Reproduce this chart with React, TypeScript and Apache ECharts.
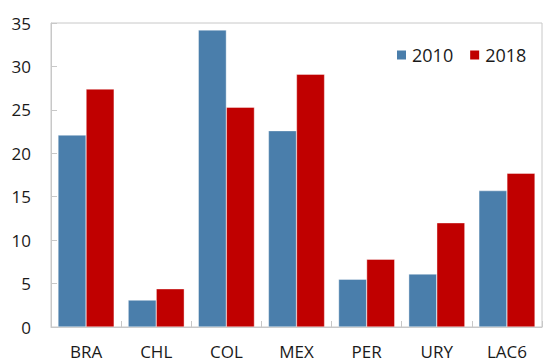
import React, { useEffect, useRef } from "react";
import * as echarts from "echarts";

const categories = ["BRA", "CHL", "COL", "MEX", "PER", "URY", "LAC6"];
const values2010 = [22.1, 3.1, 34.2, 22.6, 5.5, 6.1, 15.7];
const values2018 = [27.4, 4.4, 25.3, 29.1, 7.8, 12.0, 17.7];
const yTicks = [0, 5, 10, 15, 20, 25, 30, 35];

const FONT = "'Open Sans', 'Noto Sans', sans-serif";

export default function App() {
  const ref = useRef<HTMLDivElement>(null);
  useEffect(() => {
    if (!ref.current) return;
    const chart = echarts.init(ref.current, undefined, { renderer: "svg" });
    chart.setOption({
      animation: false,
      textStyle: { fontFamily: FONT },
      grid: {
        left: 51,
        right: 1,
        top: 23,
        bottom: 35,
        show: true,
        borderColor: "#C8C8C8",
        borderWidth: 1,
      },
      legend: {
        left: 390,
        top: 41,
        itemWidth: 11,
        itemHeight: 11,
        itemGap: 15,
        icon: "rect",
        textStyle: { fontSize: 18, color: "#1a1a1a", fontFamily: FONT },
        data: ["2010", "2018"],
      },
      xAxis: {
        type: "category",
        data: categories,
        axisLine: { show: true, lineStyle: { color: "#C8C8C8" } },
        axisTick: { show: true, inside: true, length: 6, lineStyle: { color: "#C8C8C8" } },
        axisLabel: { fontSize: 17, lineHeight: 17, color: "#1a1a1a", margin: 16, fontFamily: FONT },
      },
      yAxis: {
        type: "value",
        min: yTicks[0],
        max: yTicks[yTicks.length - 1],
        interval: 5,
        axisLine: { show: true, lineStyle: { color: "#C8C8C8" } },
        axisTick: { show: true, inside: true, length: 6, lineStyle: { color: "#C8C8C8" } },
        splitLine: { show: false },
        axisLabel: { fontSize: 17, color: "#1a1a1a", margin: 20, fontFamily: FONT },
      },
      series: [
        {
          name: "2010",
          type: "bar",
          data: values2010,
          barGap: "0%",
          barCategoryGap: "20%",
          itemStyle: { color: "#4A7EAB", borderColor: "#ffffff", borderWidth: 0.4 },
        },
        {
          name: "2018",
          type: "bar",
          data: values2018,
          barGap: "0%",
          barCategoryGap: "20%",
          itemStyle: { color: "#C00000", borderColor: "#ffffff", borderWidth: 0.4 },
        },
      ],
    });
    return () => chart.dispose();
  }, []);
  return <div ref={ref} style={{ width: 543, height: 362, position: "absolute", left: 0, top: 0 }} />;
}
